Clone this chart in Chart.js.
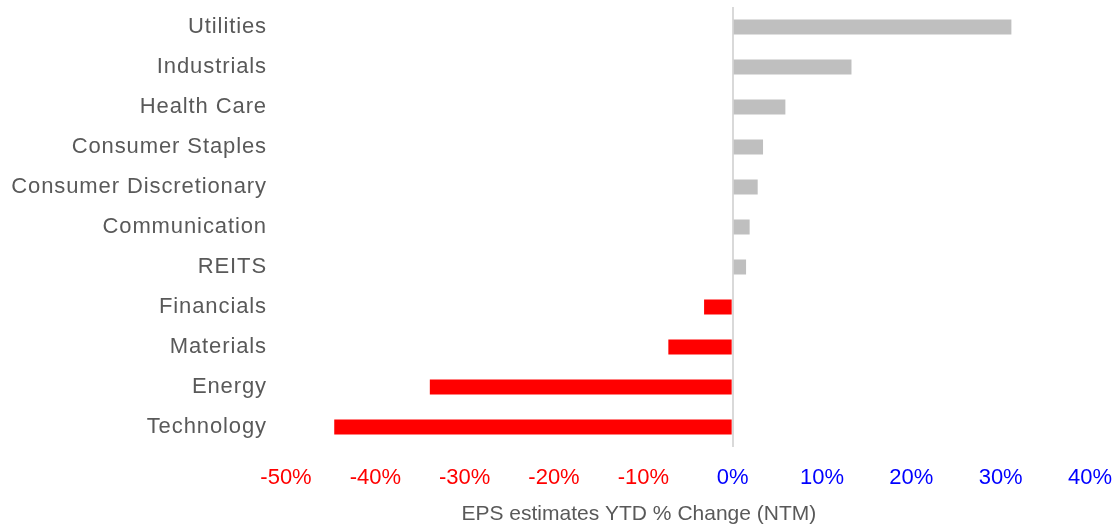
<!DOCTYPE html>
<html>
<head>
<meta charset="utf-8">
<script src="https://cdn.jsdelivr.net/npm/chart.js@4/dist/chart.umd.min.js"></script>
<style>
  html, body { margin: 0; padding: 0; background: #fff; }
  #wrap { width: 1116px; height: 527px; }
</style>
</head>
<body>
<div id="wrap"><canvas id="grafico"></canvas></div>
<script>
// sectores y cambio YTD de EPS (NTM), en %
const sectores = ['Utilities', 'Industrials', 'Health Care', 'Consumer Staples', 'Consumer Discretionary',
  'Communication', 'REITS', 'Financials', 'Materials', 'Energy', 'Technology']
const cambioEps = [31.2, 13.3, 5.9, 3.4, 2.8, 1.9, 1.5, -3.2, -7.2, -33.9, -44.6]
const ticksX = [-50, -40, -30, -20, -10, 0, 10, 20, 30, 40]
const tituloX = 'EPS estimates YTD % Change (NTM)'

const fuente = '"Liberation Sans", Arial, sans-serif'

// titulo del eje x, corrido a la izquierda como en el original
const tituloAbajo = {
  id: 'tituloAbajo',
  afterDraw(chart) {
    const ctx = chart.ctx
    const x = chart.scales.x
    ctx.save()
    ctx.font = '21px ' + fuente
    ctx.fillStyle = '#595959'
    ctx.textAlign = 'center'
    ctx.textBaseline = 'alphabetic'
    ctx.fillText(tituloX, x.getPixelForValue(-10.5), 520)
    ctx.restore()
  }
}

// las etiquetas de sectores van algo espaciadas
const espaciado = {
  id: 'espaciado',
  beforeDraw(chart) {
    const y = chart.scales.y
    if (y._espaciado) return
    const orig = y.drawLabels.bind(y)
    y.drawLabels = function (area) {
      chart.ctx.save()
      chart.ctx.letterSpacing = '0.9px'
      orig(area)
      chart.ctx.restore()
    }
    y._espaciado = true
  }
}

const ctx = document.getElementById('grafico').getContext('2d')
const chart = new Chart(ctx, {
  type: 'bar',
  data: {
    labels: sectores,
    datasets: [{
      data: cambioEps,
      backgroundColor: cambioEps.map(v => v < 0 ? '#ff0000' : '#bfbfbf'),
      categoryPercentage: 1,
      barPercentage: 0.375
    }]
  },
  options: {
    indexAxis: 'y',
    responsive: true,
    maintainAspectRatio: false,
    animation: false,
    layout: { padding: { top: 7, right: 26, left: 0, bottom: 0 } },
    plugins: { legend: { display: false }, tooltip: { enabled: false } },
    scales: {
      x: {
        min: -50,
        max: 40,
        afterBuildTicks: scale => { scale.ticks = ticksX.map(v => ({ value: v })) },
        afterFit: scale => {
          scale.height = 80
          scale.paddingLeft = 0
          scale.paddingRight = 0
        },
        grid: {
          drawTicks: false,
          color: c => c.tick && c.tick.value === 0 ? '#d9d9d9' : 'rgba(0,0,0,0)',
          lineWidth: 2
        },
        border: { display: false },
        ticks: {
          padding: 18,
          maxRotation: 0,
          autoSkip: false,
          font: { family: fuente, size: 22 },
          color: c => c.tick.value < 0 ? '#ff0000' : '#0000ff',
          callback: v => v + '%'
        }
      },
      y: {
        afterFit: scale => {
          scale.width = 286
          scale.paddingTop = 0
          scale.paddingBottom = 0
        },
        grid: { display: false, drawTicks: false },
        border: { display: false },
        ticks: {
          padding: 19,
          font: { family: fuente, size: 22 },
          color: '#595959'
        }
      }
    }
  },
  plugins: [tituloAbajo, espaciado]
})
</script>
</body>
</html>
